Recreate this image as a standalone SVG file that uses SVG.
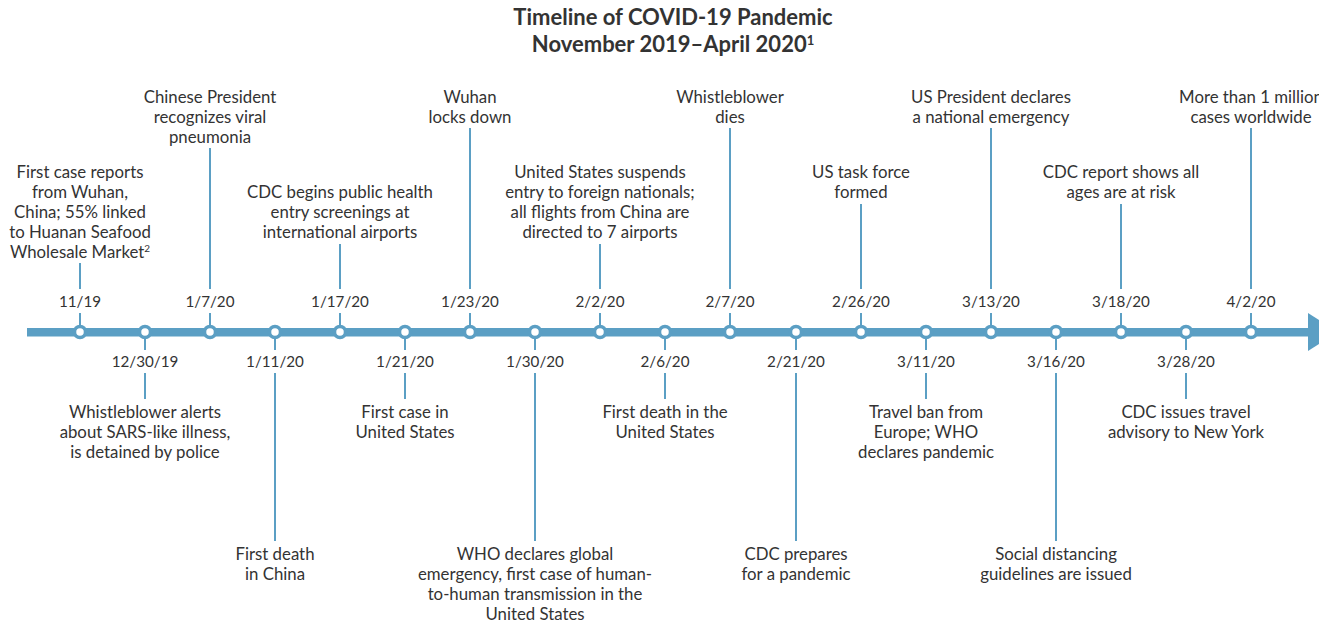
<svg xmlns="http://www.w3.org/2000/svg" width="1319" height="622" viewBox="0 0 1319 622">
<style>
text{font-family:Lato,"Open Sans","Liberation Sans",sans-serif;fill:#333;text-anchor:middle}
.t{font-size:16.8px}
.d{font-size:15.2px}
.h{font-size:22px;font-weight:bold}
.k{stroke:#5b9fc4;stroke-width:2;fill:none}
.c{fill:#fff;stroke:#5b9fc4;stroke-width:3.5}
</style>
<rect width="1319" height="622" fill="#fff"/>
<g id="title">
<text class="h" x="673" y="25">Timeline of COVID-19 Pandemic</text>
<text class="h" x="673" y="52">November 2019–April 2020<tspan font-size="13" dy="-7">1</tspan></text>
</g>
<g id="connectors">
<rect x="27" y="328" width="1284" height="8.5" fill="#5b9fc4"/>
<polygon points="1308,313 1308,351 1338,332" fill="#5b9fc4"/>
<path class="k" d="M80,263V289M80,313V327M210,148V289M210,313V327M340,244V289M340,313V327M470,128V289M470,313V327M600,244V289M600,313V327M730,128V289M730,313V327M861,204V289M861,313V327M991,128V289M991,313V327M1121,204V289M1121,313V327M1251,128V289M1251,313V327"/>
<path class="k" d="M145,337V350M145,373V399M275,337V350M275,373V541M405,337V350M405,373V399M535,337V350M535,373V541M665,337V350M665,373V399M796,337V350M796,373V541M926,337V350M926,373V399M1056,337V350M1056,373V541M1186,337V350M1186,373V399"/>
</g>
<g id="e1"><circle class="c" cx="80" cy="332" r="5.5"/><text class="d" x="80" y="307">11/19</text>
<text class="t" x="80" y="178">First case reports</text><text class="t" x="80" y="198">from Wuhan,</text><text class="t" x="80" y="218">China; 55% linked</text><text class="t" x="80" y="238">to Huanan Seafood</text><text class="t" x="80" y="258">Wholesale Market<tspan font-size="10" dy="-6">2</tspan></text></g>
<g id="e2"><circle class="c" cx="145" cy="332" r="5.5"/><text class="d" x="145" y="367">12/30/19</text>
<text class="t" x="145" y="418">Whistleblower alerts</text><text class="t" x="145" y="438">about SARS-like illness,</text><text class="t" x="145" y="458">is detained by police</text></g>
<g id="e3"><circle class="c" cx="210" cy="332" r="5.5"/><text class="d" x="210" y="307">1/7/20</text>
<text class="t" x="210" y="103">Chinese President</text><text class="t" x="210" y="123">recognizes viral</text><text class="t" x="210" y="143">pneumonia</text></g>
<g id="e4"><circle class="c" cx="275" cy="332" r="5.5"/><text class="d" x="275" y="367">1/11/20</text>
<text class="t" x="275" y="560">First death</text><text class="t" x="275" y="580">in China</text></g>
<g id="e5"><circle class="c" cx="340" cy="332" r="5.5"/><text class="d" x="340" y="307">1/17/20</text>
<text class="t" x="340" y="198">CDC begins public health</text><text class="t" x="340" y="218">entry screenings at</text><text class="t" x="340" y="238">international airports</text></g>
<g id="e6"><circle class="c" cx="405" cy="332" r="5.5"/><text class="d" x="405" y="367">1/21/20</text>
<text class="t" x="405" y="418">First case in</text><text class="t" x="405" y="438">United States</text></g>
<g id="e7"><circle class="c" cx="470" cy="332" r="5.5"/><text class="d" x="470" y="307">1/23/20</text>
<text class="t" x="470" y="103">Wuhan</text><text class="t" x="470" y="123">locks down</text></g>
<g id="e8"><circle class="c" cx="535" cy="332" r="5.5"/><text class="d" x="535" y="367">1/30/20</text>
<text class="t" x="535" y="560">WHO declares global</text><text class="t" x="535" y="580">emergency, first case of human-</text><text class="t" x="535" y="600">to-human transmission in the</text><text class="t" x="535" y="620">United States</text></g>
<g id="e9"><circle class="c" cx="600" cy="332" r="5.5"/><text class="d" x="600" y="307">2/2/20</text>
<text class="t" x="600" y="178">United States suspends</text><text class="t" x="600" y="198">entry to foreign nationals;</text><text class="t" x="600" y="218">all flights from China are</text><text class="t" x="600" y="238">directed to 7 airports</text></g>
<g id="e10"><circle class="c" cx="665" cy="332" r="5.5"/><text class="d" x="665" y="367">2/6/20</text>
<text class="t" x="665" y="418">First death in the</text><text class="t" x="665" y="438">United States</text></g>
<g id="e11"><circle class="c" cx="730" cy="332" r="5.5"/><text class="d" x="730" y="307">2/7/20</text>
<text class="t" x="730" y="103">Whistleblower</text><text class="t" x="730" y="123">dies</text></g>
<g id="e12"><circle class="c" cx="796" cy="332" r="5.5"/><text class="d" x="796" y="367">2/21/20</text>
<text class="t" x="796" y="560">CDC prepares</text><text class="t" x="796" y="580">for a pandemic</text></g>
<g id="e13"><circle class="c" cx="861" cy="332" r="5.5"/><text class="d" x="861" y="307">2/26/20</text>
<text class="t" x="861" y="178">US task force</text><text class="t" x="861" y="198">formed</text></g>
<g id="e14"><circle class="c" cx="926" cy="332" r="5.5"/><text class="d" x="926" y="367">3/11/20</text>
<text class="t" x="926" y="418">Travel ban from</text><text class="t" x="926" y="438">Europe; WHO</text><text class="t" x="926" y="458">declares pandemic</text></g>
<g id="e15"><circle class="c" cx="991" cy="332" r="5.5"/><text class="d" x="991" y="307">3/13/20</text>
<text class="t" x="991" y="103">US President declares</text><text class="t" x="991" y="123">a national emergency</text></g>
<g id="e16"><circle class="c" cx="1056" cy="332" r="5.5"/><text class="d" x="1056" y="367">3/16/20</text>
<text class="t" x="1056" y="560">Social distancing</text><text class="t" x="1056" y="580">guidelines are issued</text></g>
<g id="e17"><circle class="c" cx="1121" cy="332" r="5.5"/><text class="d" x="1121" y="307">3/18/20</text>
<text class="t" x="1121" y="178">CDC report shows all</text><text class="t" x="1121" y="198">ages are at risk</text></g>
<g id="e18"><circle class="c" cx="1186" cy="332" r="5.5"/><text class="d" x="1186" y="367">3/28/20</text>
<text class="t" x="1186" y="418">CDC issues travel</text><text class="t" x="1186" y="438">advisory to New York</text></g>
<g id="e19"><circle class="c" cx="1251" cy="332" r="5.5"/><text class="d" x="1251" y="307">4/2/20</text>
<text class="t" x="1251" y="103">More than 1 million</text><text class="t" x="1251" y="123">cases worldwide</text></g>
</svg>
